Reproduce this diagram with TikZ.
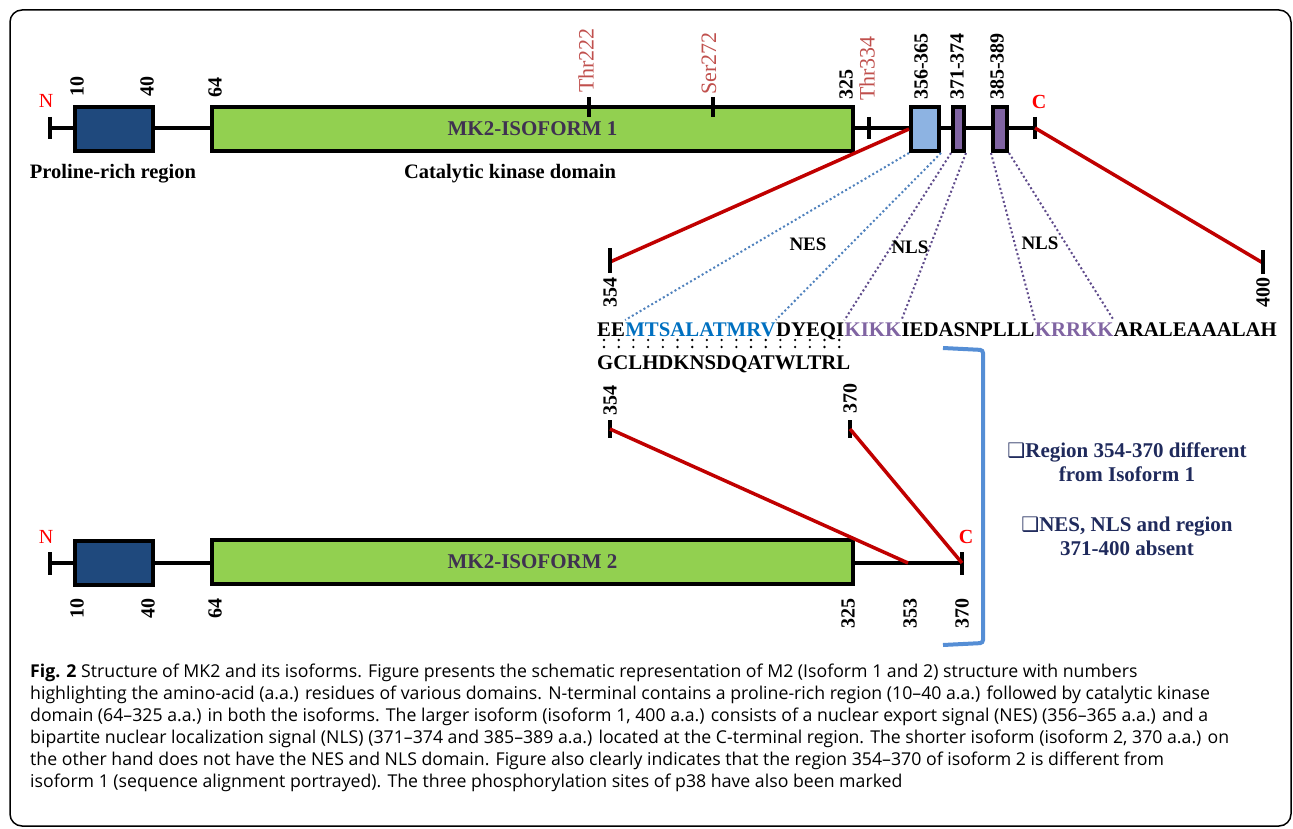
\documentclass[tikz,border=0pt]{standalone}
\usepackage{fontspec}
\setmainfont{Liberation Serif}
\newfontfamily\capfont{Open Sans}
\newfontfamily\boxsym{DejaVu Sans}
\usetikzlibrary{positioning}
\definecolor{prodark}{HTML}{1F497D}
\definecolor{kingreen}{HTML}{92D050}
\definecolor{neslight}{HTML}{8DB3E2}
\definecolor{nlsviolet}{HTML}{8064A2}
\definecolor{linkred}{HTML}{C00000}
\definecolor{sitered}{HTML}{C0504D}
\definecolor{nesblue}{HTML}{0070C0}
\definecolor{nesdotc}{HTML}{4F81BD}
\definecolor{nlsdotc}{HTML}{5F4B8B}
\definecolor{isoname}{HTML}{3F3151}
\definecolor{brackblue}{HTML}{558ED5}
\definecolor{notenavy}{HTML}{1F2A5C}
\begin{document}
\begin{tikzpicture}[x=1pt,y=-1pt,
	dom/.style={draw=black,line width=4pt,inner sep=0pt,anchor=west,minimum height=44pt,text=isoname,font=\bfseries\fontsize{21}{21}\selectfont},
	bbone/.style={line width=4pt},
	num/.style={rotate=90,inner sep=0pt,font=\bfseries\fontsize{20}{20}\selectfont},
	site/.style={rotate=90,inner sep=0pt,anchor=west,text=sitered,font=\fontsize{22}{22}\selectfont},
	term/.style={text=red,inner sep=0pt,font=\fontsize{20}{20}\selectfont},
	link/.style={draw=linkred,line width=3.5pt},
	nesdot/.style={draw=nesdotc,line width=2pt,dash pattern=on 2pt off 2.5pt},
	nlsdot/.style={draw=nlsdotc,line width=2pt,dash pattern=on 2pt off 2.5pt},
	seq/.style={inner sep=0pt,anchor=base west,font=\bfseries\fontsize{20.8}{20.8}\selectfont},
	lbl/.style={font=\bfseries\fontsize{20.5}{20.5}\selectfont}]
	\useasboundingbox (0,0) rectangle (1293,829);
	\draw[line width=1.5pt,rounded corners=12pt] (10,10) rectangle (1291,826);
	% isoform 1
	\coordinate (n1) at (50,128);\coordinate (c1) at (1035,128);
	\draw[bbone] (n1) -- (c1);
	\draw[bbone] (50,117) -- (50,139);\draw[bbone] (1035,117) -- (1035,139);\draw[bbone] (869,117) -- (869,139);
	\node[dom,fill=prodark,minimum width=78pt] (pro1) at (73,129) {};
	\node[dom,fill=kingreen,minimum width=641pt] (kin1) at (210,129) {MK2-ISOFORM 1};
	\node[dom,fill=neslight,minimum width=28pt] (nes1) at (909,129) {};
	\node[dom,fill=nlsviolet,minimum width=11pt] (nlsa1) at (951,129) {};
	\node[dom,fill=nlsviolet,minimum width=14pt] (nlsb1) at (991,129) {};
	\draw[bbone] (589,97) -- (589,117);\draw[bbone] (713,97) -- (713,117);
	\node[num,anchor=west] at (77,97) {10};\node[num,anchor=west] at (147,97) {40};\node[num,anchor=west] at (215,98) {64};
	\node[num,anchor=west] at (846,100) {325};\node[num,anchor=west] at (921,100) {356-365};
	\node[num,anchor=west] at (957,100) {371-374};\node[num,anchor=west] at (997,100) {385-389};
	\node[site] at (586,93) {Thr222};\node[site] at (709,95) {Ser272};\node[site] at (867,101) {Thr334};
	\node[term] at (46,101) {N};\node[term,font=\bfseries\fontsize{20}{20}\selectfont] at (1039,102) {C};
	\node[lbl] at (113,174) {Proline-rich region};\node[lbl] at (510,174) {Catalytic kinase domain};
	% expanded C-terminal sequence
	\coordinate (p354a) at (610,262);\coordinate (p400) at (1263,263);
	\draw[link] (nes1.west) -- (p354a);\draw[link] (c1) -- (p400);
	\draw[bbone] (610,248) -- (610,273);\draw[bbone] (1263,250) -- (1263,274);
	\node[num,anchor=east] at (610,277) {354};\node[num,anchor=east] at (1263,277) {400};
	\node[seq] (sa) at (597,336) {EE};
	\node[seq,text=nesblue] (sb) at (sa.base east) {MTSALATMRV};
	\node[seq] (sc) at (sb.base east) {DYEQI};
	\node[seq,text=nlsviolet] (sd) at (sc.base east) {KIKK};
	\node[seq] (se) at (sd.base east) {IEDASNPLLL};
	\node[seq,text=nlsviolet] (sf) at (se.base east) {KRRKK};
	\node[seq] (sg) at (sf.base east) {ARALEAAALAH};
	\node[seq] (alt) at (597,369) {GCLHDKNSDQATWLTRL};
	\foreach \i in {0,...,16} {\fill (604+\i*14.7,340) circle (1.3pt);\fill (604+\i*14.7,347) circle (1.3pt);}
	\draw[nesdot] (nes1.south west) -- ([yshift=2pt]sb.north west);\draw[nesdot] (nes1.south east) -- ([yshift=2pt]sb.north east);
	\draw[nlsdot] (nlsa1.south west) -- ([yshift=2pt]sd.north west);\draw[nlsdot] (nlsa1.south east) -- ([yshift=2pt]sd.north east);
	\draw[nlsdot] (nlsb1.south west) -- ([yshift=2pt]sf.north west);\draw[nlsdot] (nlsb1.south east) -- ([yshift=2pt]sf.north east);
	\node[lbl,font=\bfseries\fontsize{19}{19}\selectfont] at (808,244) {NES};\node[lbl,font=\bfseries\fontsize{19}{19}\selectfont] at (910,247) {NLS};
	\node[lbl,font=\bfseries\fontsize{19}{19}\selectfont] at (1040,243) {NLS};
	% isoform 2
	\coordinate (p354b) at (610,429);\coordinate (p370b) at (850,429);
	\draw[bbone] (610,420) -- (610,438);\draw[bbone] (850,420) -- (850,438);
	\node[num,anchor=west] at (610,416) {354};\node[num,anchor=west] at (850,414) {370};
	\coordinate (n2) at (50,563);\coordinate (c2) at (962,563);\coordinate (p353) at (908,563);
	\draw[bbone] (n2) -- (c2);
	\draw[bbone] (50,552) -- (50,575);\draw[bbone] (962,552) -- (962,575);
	\node[dom,fill=prodark,minimum width=78pt] (pro2) at (73,563) {};
	\node[dom,fill=kingreen,minimum width=641pt] (kin2) at (210,562) {MK2-ISOFORM 2};
	\draw[link] (p354b) -- (p353);\draw[link] (p370b) -- (c2);
	\node[num,anchor=east] at (77,598) {10};\node[num,anchor=east] at (148,598) {40};\node[num,anchor=east] at (215,598) {64};
	\node[num,anchor=east] at (848,598) {325};\node[num,anchor=east] at (910,598) {353};\node[num,anchor=east] at (962,598) {370};
	\node[term] at (46,537) {N};\node[term,font=\bfseries\fontsize{20}{20}\selectfont] at (966,537) {C};
	\draw[brackblue,line width=4pt,rounded corners=3pt] (943,348) -- (983,350) -- (983,643) -- (943,645);
	\node[align=center,text=notenavy,font=\bfseries\fontsize{21}{24}\selectfont] (note1) at (1127,462) {{\boxsym\mdseries\fontsize{20}{20}\selectfont ❑}Region 354-370 different\\from Isoform 1};
	\node[align=center,text=notenavy,font=\bfseries\fontsize{21}{24}\selectfont] (note2) at (1127,536) {{\boxsym\mdseries\fontsize{20}{20}\selectfont ❑}NES, NLS and region\\371-400 absent};
	% caption
	\node[anchor=north west,inner sep=0pt,align=left,font=\capfont\fontsize{17.7}{22}\selectfont] (cap) at (30,664) {\textbf{Fig. 2} Structure of MK2 and its isoforms. Figure presents the schematic representation of M2 (Isoform 1 and 2) structure with numbers\\
	highlighting the amino-acid (a.a.) residues of various domains. N-terminal contains a proline-rich region (10–40 a.a.) followed by catalytic kinase\\
	domain (64–325 a.a.) in both the isoforms. The larger isoform (isoform 1, 400 a.a.) consists of a nuclear export signal (NES) (356–365 a.a.) and a\\
	bipartite nuclear localization signal (NLS) (371–374 and 385–389 a.a.) located at the C-terminal region. The shorter isoform (isoform 2, 370 a.a.) on\\
	the other hand does not have the NES and NLS domain. Figure also clearly indicates that the region 354–370 of isoform 2 is different from\\
	isoform 1 (sequence alignment portrayed). The three phosphorylation sites of p38 have also been marked};
\end{tikzpicture}
\end{document}
